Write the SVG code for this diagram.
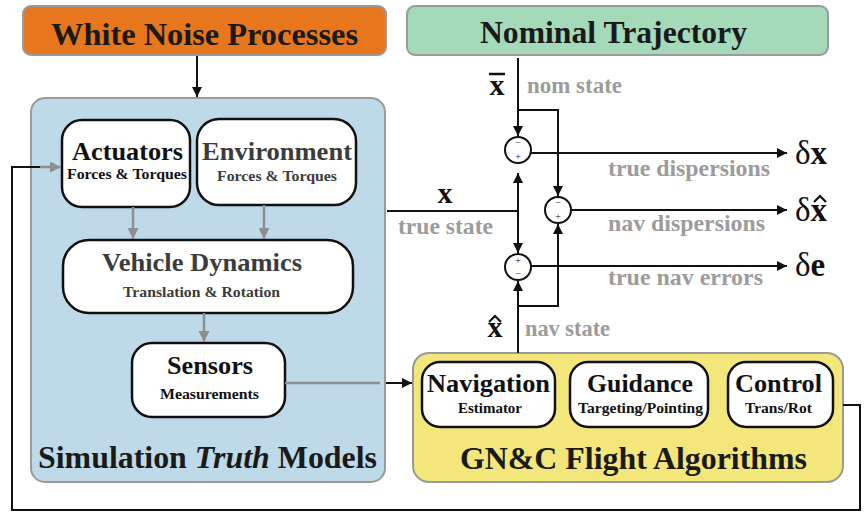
<svg xmlns="http://www.w3.org/2000/svg" width="864" height="512" viewBox="0 0 864 512" font-family="Liberation Serif, Times New Roman, serif">
<defs>
<marker id="ab" viewBox="0 0 10 10" refX="10" refY="5" markerWidth="10" markerHeight="10" markerUnits="userSpaceOnUse" orient="auto-start-reverse"><path d="M0,0 L10,5 L0,10 z" fill="#111"/></marker>
<marker id="ag" viewBox="0 0 10 10" refX="10" refY="5" markerWidth="11" markerHeight="11" markerUnits="userSpaceOnUse" orient="auto"><path d="M0,0 L10,5 L0,10 z" fill="#8f8f8f"/></marker>
<style>
text{font-weight:bold}
.outer{stroke:#9a9a9a;stroke-width:2}
.inner{fill:#fff;stroke:#111;stroke-width:2.5}
.t{font-size:26px;fill:#111;text-anchor:middle}
.s{font-size:15.5px;fill:#111;text-anchor:middle}
.dk{fill:#3c3c3c}
.g{fill:#9c9c9c;font-size:23px}
.ln{fill:none;stroke:#111;stroke-width:2}
.gl{fill:none;stroke:#8f8f8f;stroke-width:2.5}
.sum{fill:#fff;stroke:#111;stroke-width:2}
.pm{font-weight:normal;font-size:10px;fill:#111;text-anchor:middle}
.d{font-size:33px;fill:#111;font-weight:normal}
.v{font-size:30px;fill:#111;text-anchor:middle}
</style>
</defs>
<g id="white-noise">
<rect class="outer" x="23" y="6" width="363" height="49" rx="8" fill="#e8761c"/>
<text x="204.5" y="45" font-size="32" fill="#1a1a1a" text-anchor="middle" textLength="307" lengthAdjust="spacingAndGlyphs">White Noise Processes</text>
</g>
<g id="nominal">
<rect class="outer" x="407" y="6" width="421" height="49" rx="8" fill="#a4d9b9"/>
<text x="613.5" y="43" font-size="31" fill="#1a1a1a" text-anchor="middle" textLength="267" lengthAdjust="spacingAndGlyphs">Nominal Trajectory</text>
</g>
<g id="truth-models">
<rect class="outer" x="31" y="98" width="354" height="384" rx="14" fill="#bed9e7"/>
<text x="207.5" y="468" font-size="32" fill="#1a1a1a" text-anchor="middle" textLength="339" lengthAdjust="spacingAndGlyphs">Simulation <tspan font-style="italic">Truth</tspan> Models</text>
</g>
<g id="actuators">
<rect class="inner" x="62" y="120" width="128" height="87" rx="20"/>
<text class="t" x="127.5" y="160" textLength="111" lengthAdjust="spacingAndGlyphs">Actuators</text>
<text class="s" x="127" y="179" textLength="120" lengthAdjust="spacingAndGlyphs">Forces &amp; Torques</text>
</g>
<g id="environment">
<rect class="inner" x="197" y="119" width="159" height="86" rx="22"/>
<text class="t dk" x="277" y="160" textLength="150" lengthAdjust="spacingAndGlyphs">Environment</text>
<text class="s dk" x="277" y="181" textLength="120" lengthAdjust="spacingAndGlyphs">Forces &amp; Torques</text>
</g>
<g id="vehicle-dynamics">
<rect class="inner" x="63" y="240" width="290" height="73" rx="26"/>
<text class="t dk" x="202" y="271" textLength="200" lengthAdjust="spacingAndGlyphs">Vehicle Dynamics</text>
<text class="s dk" x="201.5" y="297" textLength="157" lengthAdjust="spacingAndGlyphs">Translation &amp; Rotation</text>
</g>
<g id="sensors">
<rect class="inner" x="132" y="343" width="153" height="74" rx="20"/>
<text class="t" x="210" y="374" textLength="86" lengthAdjust="spacingAndGlyphs">Sensors</text>
<text class="s" x="209.5" y="399" textLength="99" lengthAdjust="spacingAndGlyphs">Measurements</text>
</g>
<g id="gnc">
<rect class="outer" x="413" y="353" width="430" height="129" rx="16" fill="#f3e77c"/>
<text x="633.5" y="469" font-size="32" fill="#1a1a1a" text-anchor="middle" textLength="347" lengthAdjust="spacingAndGlyphs">GN&amp;C Flight Algorithms</text>
</g>
<g id="navigation">
<rect class="inner" x="422" y="362" width="133" height="65" rx="18"/>
<text class="t" x="488.5" y="392" textLength="123" lengthAdjust="spacingAndGlyphs">Navigation</text>
<text class="s" x="490" y="413" textLength="64" lengthAdjust="spacingAndGlyphs">Estimator</text>
</g>
<g id="guidance">
<rect class="inner" x="570" y="362" width="138" height="65" rx="18"/>
<text class="t" x="640" y="392" textLength="106" lengthAdjust="spacingAndGlyphs">Guidance</text>
<text class="s" x="640.5" y="413" textLength="125" lengthAdjust="spacingAndGlyphs">Targeting/Pointing</text>
</g>
<g id="control">
<rect class="inner" x="728" y="362" width="105" height="65" rx="18"/>
<text class="t" x="778.5" y="392" textLength="87" lengthAdjust="spacingAndGlyphs">Control</text>
<text class="s" x="778.5" y="413" textLength="67" lengthAdjust="spacingAndGlyphs">Trans/Rot</text>
</g>
<g id="sum1"><circle class="sum" cx="518" cy="150" r="13"/><text class="pm" x="518" y="146">−</text><text class="pm" x="518" y="160">+</text></g>
<g id="sum2"><circle class="sum" cx="558" cy="210" r="13"/><text class="pm" x="558" y="206">−</text><text class="pm" x="558" y="220">+</text></g>
<g id="sum3"><circle class="sum" cx="518" cy="267" r="13"/><text class="pm" x="518" y="264">+</text><text class="pm" x="518" y="277">−</text></g>
<g id="connectors">
<line class="ln" x1="197" y1="56" x2="197" y2="97" marker-end="url(#ab)"/>
<line class="gl" x1="133" y1="207" x2="133" y2="239" marker-end="url(#ag)"/>
<line class="gl" x1="264" y1="205" x2="264" y2="239" marker-end="url(#ag)"/>
<line class="gl" x1="204" y1="313" x2="204" y2="342" marker-end="url(#ag)"/>
<line class="gl" x1="285" y1="383" x2="380" y2="383"/>
<line class="ln" x1="386" y1="383" x2="412" y2="383" marker-end="url(#ab)"/>
<polyline class="ln" points="843,405 860,405 860,510 12,510 12,167 42,167"/>
<line class="gl" x1="40" y1="167" x2="61" y2="167" marker-end="url(#ag)"/>
<line class="ln" x1="518" y1="58" x2="518" y2="136" marker-end="url(#ab)"/>
<polyline class="ln" points="518,110 558,110 558,196" marker-end="url(#ab)"/>
<line class="ln" x1="531" y1="153" x2="787" y2="153" marker-end="url(#ab)"/>
<line class="ln" x1="387" y1="211" x2="518" y2="211"/>
<line class="ln" x1="518" y1="173" x2="518" y2="253" marker-start="url(#ab)" marker-end="url(#ab)"/>
<line class="ln" x1="571" y1="210" x2="787" y2="210" marker-end="url(#ab)"/>
<line class="ln" x1="531" y1="266" x2="787" y2="266" marker-end="url(#ab)"/>
<line class="ln" x1="518" y1="353" x2="518" y2="281" marker-end="url(#ab)"/>
<polyline class="ln" points="518,306 558,306 558,224" marker-end="url(#ab)"/>
</g>
<g id="labels">
<text class="v" x="497" y="95">x</text>
<line x1="489" y1="74" x2="505" y2="74" stroke="#111" stroke-width="2.5"/>
<text class="g" x="527" y="93" textLength="95" lengthAdjust="spacingAndGlyphs">nom state</text>
<text class="v" x="445" y="203">x</text>
<text class="g" x="398" y="234" textLength="95" lengthAdjust="spacingAndGlyphs">true state</text>
<text class="v" x="495" y="337">x</text>
<path d="M489,322 L495,316 L501,322" fill="none" stroke="#111" stroke-width="2.2"/>
<text class="g" x="525" y="336" textLength="85" lengthAdjust="spacingAndGlyphs">nav state</text>
<text class="g" x="608" y="176" textLength="162" lengthAdjust="spacingAndGlyphs">true dispersions</text>
<text class="g" x="608" y="231" textLength="157" lengthAdjust="spacingAndGlyphs">nav dispersions</text>
<text class="g" x="608" y="285" textLength="155" lengthAdjust="spacingAndGlyphs">true nav errors</text>
<text class="d" x="795" y="164">δ<tspan font-weight="bold">x</tspan></text>
<text class="d" x="795" y="221">δ<tspan font-weight="bold">x</tspan></text>
<path d="M814,202 L820,196 L826,202" fill="none" stroke="#111" stroke-width="2.2"/>
<text class="d" x="795" y="276">δ<tspan font-weight="bold">e</tspan></text>
</g>
</svg>
